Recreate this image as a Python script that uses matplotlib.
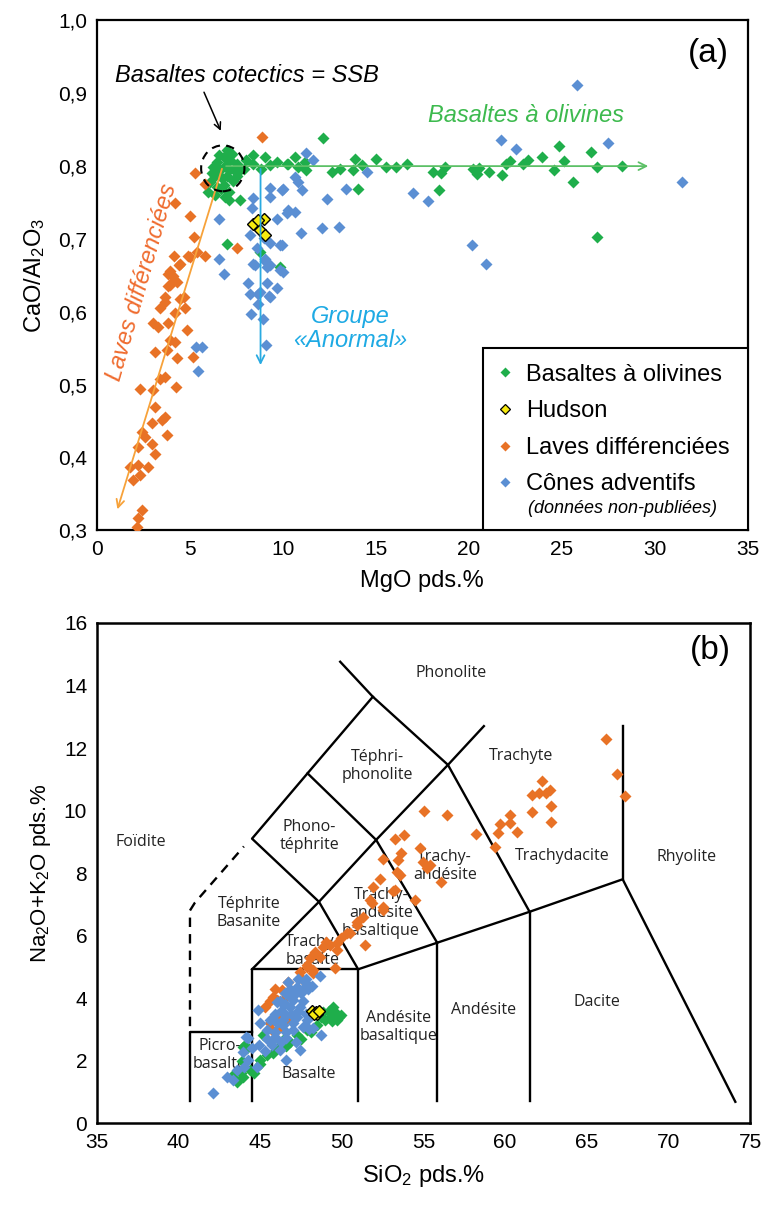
import matplotlib

matplotlib.use("Agg")
import matplotlib.pyplot as plt  # noqa: E402
from matplotlib.lines import Line2D  # noqa: E402
from matplotlib.patches import Ellipse, Rectangle  # noqa: E402
from matplotlib.ticker import FuncFormatter  # noqa: E402

plt.rcParams["font.family"] = ["Liberation Sans", "DejaVu Sans"]
plt.rcParams["mathtext.default"] = "regular"

GREEN = "#1fae4b"
ORANGE = "#e87226"
BLUE = "#5b8fd3"
YELLOW = "#f7ea0f"

# ---- panel (a): MgO vs CaO/Al2O3 ----
green_mgo = [6.99, 7.26, 6.81, 6.45, 7.17, 7.53, 6.27, 6.63, 7.08, 7.71, 6.36, 6.72, 6.09, 6.45,
             6.81, 6.0, 6.36, 7.08, 7.53, 7.89, 7.08, 7.71, 6.9, 7.0, 6.55, 7.35, 6.2, 6.7, 7.3, 6.9,
             8.42, 9.05, 9.68, 10.3, 8.42, 9.32, 8.0, 8.8, 10.65, 10.2, 11.18, 11.27, 10.82, 12.17,
             12.62, 13.06, 13.87, 13.78, 14.23, 15.03, 15.54, 16.11, 16.65, 18.08, 18.53, 18.71,
             18.39, 14.05, 20.2, 20.55, 20.44, 21.09, 21.76, 22.0, 22.2, 22.92, 23.2, 23.96, 24.6,
             24.84, 25.1, 25.6, 26.55, 26.87, 28.26, 26.87, 6.99, 8.78, 9.86]
green_ratio = [0.822, 0.817, 0.812, 0.806, 0.808, 0.803, 0.799, 0.794, 0.794, 0.794, 0.787, 0.783,
               0.778, 0.771, 0.774, 0.765, 0.760, 0.765, 0.787, 0.796, 0.753, 0.753, 0.800, 0.786,
               0.815, 0.795, 0.790, 0.768, 0.779, 0.758, 0.815, 0.812, 0.806, 0.803, 0.803, 0.801,
               0.808, 0.796, 0.812, 0.803, 0.806, 0.794, 0.799, 0.838, 0.792, 0.796, 0.810, 0.794,
               0.801, 0.810, 0.799, 0.799, 0.803, 0.792, 0.790, 0.799, 0.767, 0.769, 0.796, 0.798,
               0.789, 0.792, 0.788, 0.803, 0.807, 0.803, 0.808, 0.812, 0.795, 0.827, 0.807, 0.778,
               0.820, 0.799, 0.800, 0.703, 0.693, 0.682, 0.661]

hudson_mgo = [8.42, 8.96, 8.78, 9.05, 8.69]
hudson_ratio = [0.721, 0.728, 0.712, 0.705, 0.726]

orange_mgo = [8.9, 5.29, 5.82, 4.18, 5.02, 5.23, 7.53, 4.12, 5.38, 5.82, 5.02, 4.39, 3.85, 4.12,
              3.85, 4.66, 3.67, 4.46, 3.92, 4.1, 3.92, 4.32, 3.66, 3.39, 4.46, 4.73, 4.19, 3.03,
              3.3, 3.84, 4.82, 3.92, 4.19, 3.12, 3.75, 4.3, 5.18, 3.39, 3.66, 2.31, 3.03, 4.28,
              3.12, 2.94, 3.48, 3.66, 2.4, 2.58, 3.75, 2.22, 2.94, 3.12, 1.77, 2.22, 2.76, 1.95,
              2.31, 2.4, 2.22, 2.13, 4.91]
orange_ratio = [0.840, 0.790, 0.776, 0.750, 0.732, 0.702, 0.688, 0.677, 0.682, 0.677, 0.675, 0.664,
                0.652, 0.643, 0.636, 0.620, 0.620, 0.665, 0.656, 0.649, 0.637, 0.641, 0.614, 0.605,
                0.618, 0.605, 0.598, 0.584, 0.579, 0.584, 0.575, 0.561, 0.559, 0.545, 0.547, 0.536,
                0.538, 0.508, 0.510, 0.494, 0.492, 0.497, 0.469, 0.447, 0.452, 0.456, 0.435, 0.428,
                0.431, 0.414, 0.419, 0.405, 0.387, 0.389, 0.387, 0.369, 0.376, 0.328, 0.317, 0.305,
                0.677]

blue_mgo = [9.32, 9.95, 8.42, 8.33, 10.3, 9.68, 6.54, 8.24, 8.96, 9.32, 9.86, 8.6, 6.54, 9.05,
            8.42, 9.14, 6.81, 9.86, 8.15, 9.14, 9.68, 8.24, 8.69, 9.23, 11.27, 11.6, 10.65, 10.82,
            10.0, 11.05, 12.35, 13.37, 14.5, 17.0, 17.81, 10.2, 10.65, 11.0, 12.13, 13.02, 9.93,
            20.18, 10.0, 25.84, 21.72, 22.53, 27.49, 20.91, 31.47, 8.49, 9.03, 9.3, 8.76, 9.3,
            8.67, 8.31, 8.94, 9.12, 5.32, 5.63, 5.45, 9.3]
blue_ratio = [0.770, 0.767, 0.756, 0.742, 0.740, 0.727, 0.727, 0.706, 0.701, 0.694, 0.692, 0.687,
              0.673, 0.673, 0.666, 0.661, 0.652, 0.657, 0.639, 0.639, 0.632, 0.625, 0.625, 0.622,
              0.818, 0.809, 0.785, 0.778, 0.769, 0.767, 0.755, 0.769, 0.792, 0.763, 0.752, 0.735,
              0.737, 0.708, 0.715, 0.716, 0.691, 0.692, 0.654, 0.912, 0.836, 0.824, 0.832, 0.666,
              0.778, 0.664, 0.670, 0.664, 0.627, 0.620, 0.611, 0.597, 0.590, 0.555, 0.552, 0.551,
              0.519, 0.758]

mgo_ticks = [0, 5, 10, 15, 20, 25, 30, 35]
ratio_ticks = [0.3, 0.4, 0.5, 0.6, 0.7, 0.8, 0.9, 1.0]

legend_labels = ["Basaltes à olivines", "Hudson", "Laves différenciées", "Cônes adventifs"]

# ---- panel (b): TAS ----
green_sio2 = [49.47, 49.98, 49.27, 48.86, 48.45, 47.84, 47.23, 46.82, 46.0, 45.39, 44.98, 44.37,
              43.96, 43.55, 45.18, 44.06, 46.41, 49.68, 49.2, 49.6, 49.8, 49.0, 48.7, 49.4, 48.1,
              47.5, 46.6, 45.8, 45.0, 44.6, 43.8, 43.3, 44.2, 43.9, 43.96]
green_alk = [3.72, 3.46, 3.40, 3.56, 3.14, 2.98, 2.82, 2.60, 2.39, 2.18, 2.02, 1.70, 1.48, 1.32,
             2.82, 2.50, 2.66, 3.30, 3.60, 3.55, 3.40, 3.30, 3.40, 3.25, 2.90, 2.70, 2.45, 2.25,
             1.90, 1.60, 1.60, 1.50, 2.40, 2.00, 2.44]

hudson_sio2 = [48.2, 48.4, 48.5, 48.3, 48.6]
hudson_alk = [3.6, 3.55, 3.5, 3.48, 3.58]

orange_sio2 = [66.17, 66.86, 67.37, 62.29, 61.65, 62.08, 62.5, 62.78, 62.8, 61.65, 62.8, 60.29,
               59.68, 60.29, 60.74, 59.57, 59.41, 58.21, 55.02, 56.45, 53.8, 54.78, 53.25, 53.65,
               52.53, 53.45, 54.98, 55.39, 55.19, 53.35, 53.55, 52.33, 56.1, 51.92, 53.25, 51.72,
               54.47, 52.53, 53.14, 52.53, 50.9, 51.3, 50.49, 51.41, 49.98, 49.27, 48.86, 49.68,
               48.35, 48.04, 48.66, 49.57, 47.84, 48.25, 47.63, 46.31, 45.8, 46.61, 46.1, 45.7,
               46.41, 47.84, 48.25, 47.43, 49.06, 49.68, 50.29, 50.9, 51.82, 46.0, 45.6, 46.61, 46.0,
               45.6, 45.9, 45.3, 46.7]
orange_alk = [12.28, 11.16, 10.46, 10.94, 10.50, 10.57, 10.57, 10.66, 10.15, 9.95, 9.62, 9.86,
              9.57, 9.59, 9.32, 9.27, 8.84, 9.25, 9.98, 9.86, 9.22, 8.79, 9.09, 8.65, 8.44, 8.42,
              8.36, 8.26, 8.15, 8.04, 7.94, 7.80, 7.72, 7.56, 7.46, 7.14, 7.14, 6.92, 7.43, 6.82,
              6.44, 6.60, 6.07, 5.70, 5.91, 5.70, 5.64, 5.54, 5.48, 5.27, 5.32, 4.95, 5.00, 4.79,
              4.58, 4.26, 4.04, 4.04, 3.46, 2.98, 3.30, 5.06, 4.90, 4.84, 5.80, 5.75, 6.07, 6.34,
              7.03, 3.94, 3.20, 3.30, 2.98, 3.90, 4.30, 3.70, 4.50]

blue_sio2 = [48.66, 47.74, 47.23, 47.53, 47.02, 46.82, 47.43, 46.61, 47.23, 47.84, 46.41, 47.02,
             47.63, 48.25, 44.88, 45.6, 45.9, 46.61, 46.21, 46.61, 47.43, 48.75, 44.27, 43.96,
             44.27, 44.78, 43.35, 42.94, 42.13, 44.98, 45.39, 46.0, 46.51, 46.8, 47.1, 46.5, 47.3,
             46.9, 47.6, 46.3, 47.9, 47.0, 46.0, 46.6, 47.2, 45.7, 45.3, 44.16, 45.9, 46.2, 46.7,
             47.3, 47.8, 48.2, 47.6, 46.9, 46.4, 45.9, 46.3, 47.8, 48.0, 45.4, 44.9, 44.5, 44.0,
             43.6]
blue_alk = [4.70, 4.52, 4.36, 4.15, 3.94, 3.72, 3.72, 3.46, 3.40, 3.30, 3.14, 2.98, 3.08, 3.03,
            3.62, 3.30, 2.76, 2.71, 2.34, 2.02, 2.34, 2.82, 2.71, 2.28, 2.02, 1.80, 1.38, 1.48,
            0.95, 3.20, 2.98, 3.88, 4.15, 4.30, 4.10, 3.80, 3.60, 3.50, 3.90, 3.60, 4.30, 3.20,
            3.20, 2.90, 2.60, 2.50, 2.30, 2.76, 3.50, 3.90, 4.50, 4.60, 4.60, 4.40, 4.30, 4.00,
            3.30, 2.90, 2.60, 3.50, 3.00, 2.70, 2.50, 2.40, 1.80, 1.70]

sio2_ticks = [35, 40, 45, 50, 55, 60, 65, 70, 75]
alk_ticks = [0, 2, 4, 6, 8, 10, 12, 14, 16]

# TAS field boundaries (as drawn on the figure)
tas_lines = [
    [(40.7, 0.7), (40.7, 2.92), (44.5, 2.92)],
    [(44.5, 0.7), (44.5, 4.92), (51.0, 4.92), (51.0, 0.7)],
    [(51.0, 4.92), (55.84, 5.77), (61.5, 6.76), (67.2, 7.8), (74.1, 0.68)],
    [(55.84, 0.7), (55.84, 5.77)],
    [(61.5, 0.7), (61.5, 6.76)],
    [(67.2, 7.8), (67.2, 12.7)],
    [(44.5, 4.92), (48.6, 7.08), (52.1, 9.06), (56.5, 11.46), (58.7, 12.7)],
    [(51.0, 4.92), (48.6, 7.08), (44.5, 9.1), (47.9, 11.19), (51.9, 13.64)],
    [(49.9, 14.76), (51.9, 13.64), (56.5, 11.46), (61.5, 6.76)],
    [(47.9, 11.19), (52.1, 9.06), (55.84, 5.77)],
]
tas_dashed = [(40.7, 3.1), (40.7, 6.8), (41.0, 7.05), (44.0, 8.85)]

tas_names = ["Phonolite", "Téphri-\nphonolite", "Phono-\ntéphrite", "Foïdite",
             "Téphrite\nBasanite", "Trachy-\nbasalte", "Trachy-\nandésite\nbasaltique",
             "Trachyte", "Trachy-\nandésite", "Trachydacite", "Rhyolite", "Dacite",
             "Andésite", "Andésite\nbasaltique", "Basalte", "Picro-\nbasalte"]
tas_name_x = [56.7, 52.2, 48.0, 37.7, 44.3, 48.2, 52.4, 61.0, 56.3, 63.5, 71.1, 65.6,
              58.7, 53.5, 48.0, 42.5]
tas_name_y = [14.4, 11.42, 9.18, 8.99, 6.72, 5.5, 6.72, 11.74, 8.22, 8.54, 8.5, 3.87,
              3.62, 3.07, 1.57, 2.18]


fig = plt.figure(figsize=(7.63, 12.05), dpi=100)
ax1 = fig.add_axes([0.127, 0.560, 0.853, 0.423])
ax2 = fig.add_axes([0.127, 0.068, 0.856, 0.415])

ms = 5.8
TXT = 17
# ----- (a)
ax1.plot(green_mgo, green_ratio, "D", color=GREEN, ms=ms, mec="none", zorder=3)
ax1.plot(blue_mgo, blue_ratio, "D", color=BLUE, ms=ms, mec="none", zorder=3)
ax1.plot(orange_mgo, orange_ratio, "D", color=ORANGE, ms=ms, mec="none", zorder=3)
ax1.plot(hudson_mgo, hudson_ratio, "D", color=YELLOW, ms=ms, mec="black", mew=1.0, zorder=4)

# trend arrows
ax1.annotate("", xy=(29.8, 0.80), xytext=(6.8, 0.80),
             arrowprops=dict(arrowstyle="->", color="#5cc066", lw=1.3, mutation_scale=14), zorder=5)
ax1.annotate("", xy=(1.06, 0.325), xytext=(6.77, 0.80),
             arrowprops=dict(arrowstyle="->", color="#f7a23a", lw=1.3, mutation_scale=14), zorder=5)
ax1.annotate("", xy=(8.8, 0.523), xytext=(8.8, 0.80),
             arrowprops=dict(arrowstyle="->", color="#29aae1", lw=1.3, mutation_scale=14), zorder=5)
ax1.add_patch(Ellipse((6.77, 0.797), 2.33, 0.063, fill=False, ec="black", ls=(0, (4, 3)),
                      lw=1.5, zorder=6))
ax1.annotate("", xy=(6.72, 0.845), xytext=(5.7, 0.905),
             arrowprops=dict(arrowstyle="->", color="black", lw=1.1, mutation_scale=12))

ax1.text(0.97, 0.9246, "Basaltes cotectics = SSB", style="italic", fontsize=TXT,
         va="center", ha="left")
ax1.text(23.1, 0.869, "Basaltes à olivines", style="italic", fontsize=TXT, color="#3dba4e",
         ha="center", va="center")
ax1.text(13.6, 0.577, "Groupe\n«Anormal»", style="italic", fontsize=TXT, color="#1eaae4",
         ha="center", va="center", linespacing=1.05)
ax1.text(2.4, 0.640, "Laves différenciées", style="italic", fontsize=TXT, color="#ef6b2e",
         ha="center", va="center", rotation=74)
ax1.text(0.94, 0.935, "(a)", transform=ax1.transAxes, fontsize=24, ha="center", va="center")

ax1.set_xlim(0, 35)
ax1.set_ylim(0.3, 1.0)
ax1.set_xticks(mgo_ticks)
ax1.set_yticks(ratio_ticks)
ax1.yaxis.set_major_formatter(FuncFormatter(lambda v, p: f"{v:.1f}".replace(".", ",")))
ax1.tick_params(length=0, labelsize=15, pad=7)
ax1.set_xlabel("MgO pds.%", fontsize=17, labelpad=8)
ax1.set_ylabel("CaO/Al$_2$O$_3$", fontsize=17, labelpad=8)
for sp in ax1.spines.values():
    sp.set_linewidth(1.6)

# legend: frame drawn separately so the italic note can sit close under the last entry
ax1.add_patch(Rectangle((0.593, 0.0), 0.407, 0.357, transform=ax1.transAxes, fill=True,
                        fc="white", ec="black", lw=1.5, zorder=7))
handles = [
    Line2D([], [], marker="D", ls="none", color=GREEN, ms=5, mec="none"),
    Line2D([], [], marker="D", ls="none", color=YELLOW, ms=5, mec="black", mew=0.9),
    Line2D([], [], marker="D", ls="none", color=ORANGE, ms=5, mec="none"),
    Line2D([], [], marker="D", ls="none", color=BLUE, ms=5, mec="none"),
]
leg = ax1.legend(handles, legend_labels, loc="upper left", bbox_to_anchor=(0.61, 0.327),
                 borderaxespad=0, fontsize=TXT, frameon=False, handlelength=0.9,
                 handletextpad=0.45, labelspacing=0.62, borderpad=0.0)
leg.set_zorder(8)
ax1.text(0.662, 0.043, "(données non-publiées)", transform=ax1.transAxes, style="italic",
         fontsize=13, ha="left", va="center", zorder=9)

# ----- (b)
for seg in tas_lines:
    ax2.plot([p[0] for p in seg], [p[1] for p in seg], color="black", lw=1.7, zorder=2)
ax2.plot([p[0] for p in tas_dashed], [p[1] for p in tas_dashed], color="black", lw=1.7,
         ls=(0, (4, 3)), zorder=2)
for name, x, y in zip(tas_names, tas_name_x, tas_name_y):
    ax2.text(x, y, name, fontsize=11.5, family=["Open Sans", "DejaVu Sans"], ha="center",
             va="center", linespacing=1.15, zorder=1, color="#222222")

ax2.plot(green_sio2, green_alk, "D", color=GREEN, ms=ms, mec="none", zorder=3)
ax2.plot(orange_sio2, orange_alk, "D", color=ORANGE, ms=ms, mec="none", zorder=3)
ax2.plot(blue_sio2, blue_alk, "D", color=BLUE, ms=ms, mec="none", zorder=3)
ax2.plot(hudson_sio2, hudson_alk, "D", color=YELLOW, ms=ms, mec="black", mew=1.0, zorder=4)
ax2.text(0.94, 0.945, "(b)", transform=ax2.transAxes, fontsize=24, ha="center", va="center")

ax2.set_xlim(35, 75)
ax2.set_ylim(0, 16)
ax2.set_xticks(sio2_ticks)
ax2.set_yticks(alk_ticks)
ax2.tick_params(length=0, labelsize=15, pad=7)
ax2.set_xlabel("SiO$_2$ pds.%", fontsize=17, labelpad=8)
ax2.set_ylabel("Na$_2$O+K$_2$O pds.%", fontsize=16, labelpad=8)
for sp in ax2.spines.values():
    sp.set_linewidth(1.8)

fig.savefig("out.png", dpi=100)
